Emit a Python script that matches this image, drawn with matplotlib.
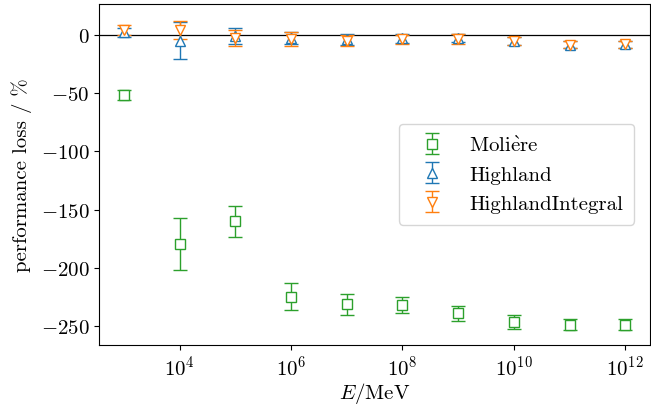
import numpy as np
import matplotlib.pyplot as plt
from matplotlib.ticker import NullLocator

plt.rcParams['font.family'] = ['cmr10', 'DejaVu Serif']
plt.rcParams['mathtext.fontset'] = 'cm'
plt.rcParams['axes.formatter.use_mathtext'] = True
plt.rcParams['font.size'] = 15

energy = [1e3, 1e4, 1e5, 1e6, 1e7, 1e8, 1e9, 1e10, 1e11, 1e12]

moliere = [-51.5, -179.5, -160, -224.5, -231, -231.5, -239, -246.5, -248.5, -248.5]
moliere_err = [4.5, 22, 13.5, 11.5, 9, 7, 6.5, 5.8, 5, 5]

highland = [2, -5, -1, -3, -4, -3, -3, -5, -8.5, -8]
highland_err = [4, 16, 6.5, 5, 5, 4, 3.5, 3.5, 3, 3]

integral = [4, 4, -3, -4, -5, -4, -3.5, -5, -8.5, -8]
integral_err = [4, 8, 7, 6, 5, 4, 4, 3.5, 3, 3]

fig, ax = plt.subplots(figsize=(6.51, 4.06), dpi=100)
fig.subplots_adjust(left=0.152, right=0.999, top=0.988, bottom=0.148)

ax.axhline(0, color='black', lw=0.9, zorder=1)

style = dict(ls='none', mfc='white', capsize=5, elinewidth=1.0, capthick=1.0)
ax.errorbar(energy, moliere, yerr=moliere_err, marker='s', color='tab:green',
            ms=6.5, label=r'Moli$\grave{\mathrm{e}}$re', **style)
ax.errorbar(energy, highland, yerr=highland_err, marker='^', color='tab:blue',
            ms=7, label='Highland', **style)
ax.errorbar(energy, integral, yerr=integral_err, marker='v', color='tab:orange',
            ms=7, label='HighlandIntegral', **style)

ax.set_xscale('log')
ax.set_xticks([1e4, 1e6, 1e8, 1e10, 1e12])
ax.xaxis.set_minor_locator(NullLocator())
ax.set_yticks([0, -50, -100, -150, -200, -250])
ax.set_ylim(-266, 26.5)
ax.set_xlabel(r'$E/\mathrm{MeV}$', labelpad=1)
ax.set_ylabel('performance loss / %', labelpad=6)
ax.legend(loc='center right', bbox_to_anchor=(0.99, 0.5), borderpad=0.55,
          fontsize=15)

fig.savefig('out.png', dpi=100)
